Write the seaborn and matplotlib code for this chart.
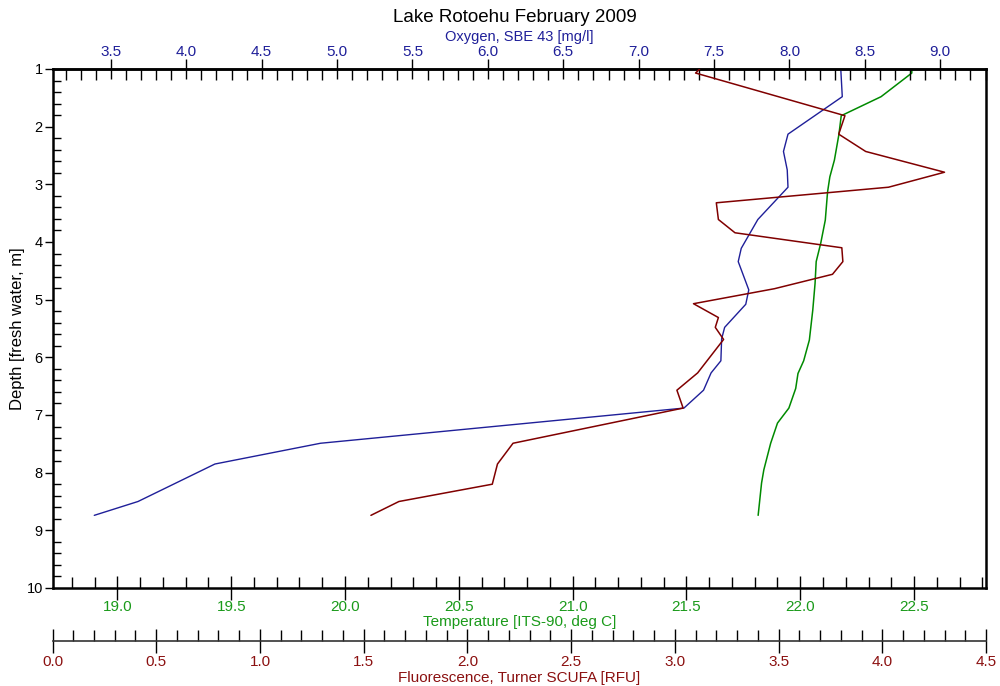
import matplotlib
matplotlib.use("Agg")
import matplotlib.pyplot as plt
import seaborn as sns
import pandas as pd
from matplotlib.ticker import MultipleLocator, FormatStrFormatter

title = "Lake Rotoehu February 2009"
oxy_label = "Oxygen, SBE 43 [mg/l]"
temp_label = "Temperature [ITS-90, deg C]"
fl_label = "Fluorescence, Turner SCUFA [RFU]"
depth_label = "Depth [fresh water, m]"

# Oxygen (blue)
oxy_depth = [1.00, 1.48, 2.13, 2.43, 2.75, 3.05, 3.61, 4.11, 4.34, 4.83, 5.08,
             5.48, 5.68, 6.06, 6.27, 6.57, 6.88, 7.49, 7.85, 8.50, 8.74]
oxy_vals = [8.34, 8.35, 7.99, 7.96, 7.985, 7.99, 7.79, 7.68, 7.66, 7.73, 7.71,
            7.57, 7.55, 7.545, 7.48, 7.43, 7.30, 4.89, 4.19, 3.68, 3.39]

# Temperature (green)
temp_depth = [1.00, 1.07, 1.48, 1.81, 2.13, 2.58, 2.87, 3.13, 3.62, 4.02, 4.34,
              4.72, 5.18, 5.70, 6.06, 6.28, 6.54, 6.88, 7.14, 7.49, 7.95, 8.18, 8.74]
temp_vals = [22.49, 22.49, 22.355, 22.18, 22.17, 22.15, 22.13, 22.12, 22.11, 22.09, 22.07,
             22.065, 22.055, 22.04, 22.015, 21.99, 21.98, 21.95, 21.90, 21.87, 21.84, 21.83, 21.815]

# Fluorescence (dark red)
fl_depth = [1.00, 1.07, 1.81, 2.13, 2.43, 2.79, 3.05, 3.32, 3.61, 3.84, 4.10, 4.34,
            4.56, 4.81, 5.07, 5.31, 5.48, 5.69, 6.27, 6.57, 6.88, 7.49, 7.85, 8.20,
            8.50, 8.74]
fl_vals = [3.12, 3.10, 3.82, 3.79, 3.92, 4.30, 4.03, 3.20, 3.21, 3.29, 3.805, 3.81,
           3.76, 3.48, 3.09, 3.21, 3.195, 3.235, 3.11, 3.01, 3.04, 2.22, 2.145, 2.12,
           1.67, 1.535]

depth_ticks = list(range(1, 11))

BLUE = "#1f1f99"
GREEN = "#008a00"
RED = "#800000"
TXT_BLUE = "#1f1f99"
TXT_GREEN = "#1a9a1a"
TXT_RED = "#8b1010"

sns.set_style("white")
plt.rcParams["font.family"] = ["Liberation Sans Narrow", "Liberation Sans", "DejaVu Sans"]
plt.rcParams["text.color"] = "black"
plt.rcParams["axes.labelcolor"] = "black"
plt.rcParams["xtick.color"] = "black"
plt.rcParams["ytick.color"] = "black"

fig = plt.figure(figsize=(10, 6.86), dpi=100)
L, R = 52.5, 986.0
T, B = 69.0, 588.0
W, H = 1000.0, 686.0
ax = fig.add_axes([L / W, 1 - B / H, (R - L) / W, (B - T) / H])
ax_o = ax.twiny()
ax_f = ax.twiny()

df_t = pd.DataFrame({"depth": temp_depth, "val": temp_vals})
df_o = pd.DataFrame({"depth": oxy_depth, "val": oxy_vals})
df_f = pd.DataFrame({"depth": fl_depth, "val": fl_vals})

sns.lineplot(data=df_t, x="val", y="depth", sort=False, estimator=None, ax=ax,
             color=GREEN, lw=1.1)
sns.lineplot(data=df_o, x="val", y="depth", sort=False, estimator=None, ax=ax_o,
             color=BLUE, lw=1.0)
sns.lineplot(data=df_f, x="val", y="depth", sort=False, estimator=None, ax=ax_f,
             color=RED, lw=1.1)

ax.set_ylim(10, 1)
ax.set_xlim(18.715, 22.816)
ax_o.set_xlim(3.113, 9.303)
ax_f.set_xlim(0, 4.5)

# Depth axis
ax.set_yticks(depth_ticks)
ax.yaxis.set_minor_locator(MultipleLocator(0.2))
ax.tick_params(axis="y", which="major", direction="out", length=6, width=1,
               labelsize=10.5, pad=1, left=True, labelcolor="black")
ax.tick_params(axis="y", which="minor", direction="in", length=6, width=1, left=True)
ax.set_ylabel(depth_label, fontsize=12, labelpad=1, color="black",
              family=["Liberation Sans", "DejaVu Sans"])

# Temperature axis (bottom)
ax.xaxis.set_major_locator(MultipleLocator(0.5))
ax.xaxis.set_minor_locator(MultipleLocator(0.1))
ax.xaxis.set_major_formatter(FormatStrFormatter("%.1f"))
ax.tick_params(axis="x", which="major", direction="inout", length=17, width=1,
               labelsize=11, labelcolor=TXT_GREEN, pad=0, bottom=True)
ax.tick_params(axis="x", which="minor", direction="in", length=8, width=1, bottom=True)
ax.set_xlabel(temp_label, fontsize=11, color=TXT_GREEN, labelpad=1)

# Oxygen axis (top)
ax_o.xaxis.set_major_locator(MultipleLocator(0.5))
ax_o.xaxis.set_minor_locator(MultipleLocator(0.1))
ax_o.xaxis.set_major_formatter(FormatStrFormatter("%.1f"))
ax_o.tick_params(axis="x", which="major", direction="inout", length=14, width=1,
                 labelsize=11, labelcolor=TXT_BLUE, pad=0, top=True)
ax_o.tick_params(axis="x", which="minor", direction="in", length=8, width=1, top=True)
ax_o.set_xlabel(oxy_label, fontsize=10.5, color=TXT_BLUE, labelpad=3)
ax_o.set_ylabel("")

# Fluorescence axis (second bottom)
ax_f.xaxis.set_ticks_position("bottom")
ax_f.xaxis.set_label_position("bottom")
ax_f.spines["bottom"].set_position(("outward", 38))
for s in ["top", "left", "right"]:
    ax_f.spines[s].set_visible(False)
ax_f.spines["bottom"].set_linewidth(1.2)
ax_f.spines["bottom"].set_color("#333333")
ax_f.xaxis.set_major_locator(MultipleLocator(0.5))
ax_f.xaxis.set_minor_locator(MultipleLocator(0.1))
ax_f.xaxis.set_major_formatter(FormatStrFormatter("%.1f"))
ax_f.tick_params(axis="x", which="major", direction="inout", length=17, width=1,
                 labelsize=11, labelcolor=TXT_RED, pad=2, bottom=True, top=False)
ax_f.tick_params(axis="x", which="minor", direction="in", length=8, width=1,
                 bottom=True, top=False)
ax_f.set_xlabel(fl_label, fontsize=11, color=TXT_RED, labelpad=1)
ax_f.set_ylabel("")

for a in (ax, ax_o):
    for s in a.spines.values():
        s.set_color("black")
        s.set_linewidth(1.8)
ax_o.spines["bottom"].set_visible(False)
ax_o.spines["left"].set_visible(False)
ax_o.spines["right"].set_visible(False)

fig.text(0.515, 1 - 17 / H, title, ha="center", va="center", fontsize=13.5,
         color="black")

fig.savefig("out.png", dpi=100)
